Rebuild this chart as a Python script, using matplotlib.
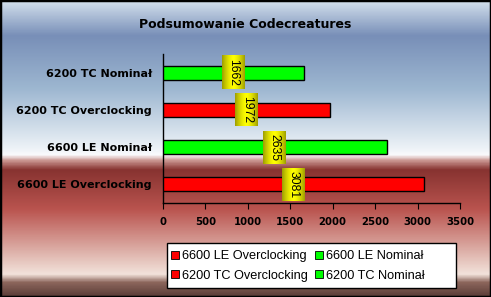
import numpy as np
import matplotlib
matplotlib.use("Agg")
import matplotlib.pyplot as plt
from matplotlib.colors import LinearSegmentedColormap
from matplotlib.patches import Rectangle
from matplotlib.lines import Line2D

plt.rcParams['font.family'] = ['Liberation Sans', 'DejaVu Sans']

title = "Podsumowanie Codecreatures"
categories = ["6600 LE Overclocking", "6600 LE Nominał", "6200 TC Overclocking", "6200 TC Nominał"]
values = [3081, 2635, 1972, 1662]
series_kind = ["oc", "nom", "oc", "nom"]
xticks = [0, 500, 1000, 1500, 2000, 2500, 3000, 3500]
legend_labels = ["6600 LE Overclocking", "6200 TC Overclocking", "6600 LE Nominał", "6200 TC Nominał"]
legend_kind = ["oc", "oc", "nom", "nom"]

base = {"oc": (1.0, 0.0, 0.0), "nom": (0.0, 1.0, 0.0)}
dark = {"oc": (0.55, 0.0, 0.0), "nom": (0.0, 0.5, 0.0)}

W, H = 491, 297
fig = plt.figure(figsize=(W / 100, H / 100), dpi=100)

# background gradient
bg = fig.add_axes([0, 0, 1, 1], zorder=-10)
stops = [
    (0.0, (0.83, 0.88, 0.93)),
    (0.118, (0.47, 0.56, 0.72)),
    (0.30, (0.62, 0.72, 0.82)),
    (0.50, (0.93, 0.95, 0.97)),
    (0.522, (0.98, 0.98, 0.99)),
    (0.540, (0.80, 0.60, 0.58)),
    (0.572, (0.53, 0.20, 0.19)),
    (0.707, (0.73, 0.33, 0.31)),
    (0.859, (0.88, 0.72, 0.69)),
    (0.926, (0.95, 0.89, 0.86)),
    (0.953, (0.55, 0.40, 0.36)),
    (1.0, (0.36, 0.24, 0.22)),
]
cmap = LinearSegmentedColormap.from_list("bg", stops)
grad = np.linspace(0, 1, 600).reshape(-1, 1)
bg.imshow(grad, aspect="auto", cmap=cmap, extent=[0, 1, 0, 1], origin="upper")
bg.set_axis_off()
bg.set_xlim(0, 1); bg.set_ylim(0, 1)
bg.add_patch(Rectangle((0, 0), 1, 1, transform=bg.transAxes, fill=False,
                       edgecolor="black", linewidth=2.5, clip_on=False))
# legend frame
bg.add_patch(Rectangle((167 / W, (297 - 288) / H), (456 - 167) / W, (288 - 243) / H,
                       transform=bg.transAxes, facecolor="white", edgecolor="black",
                       linewidth=1, zorder=5))

ax = fig.add_axes([163 / W, (297 - 203) / H, (460 - 163) / W, (203 - 54) / H])
ax.patch.set_alpha(0)
ypos = np.arange(len(categories))
bh = 0.38
bars = ax.barh(ypos, values, height=bh, color=[base[k] for k in series_kind],
               edgecolor="black", linewidth=1.0, zorder=3)

# vertical gradient on bars
g = np.abs(np.linspace(-1, 1, 64))
for bar, k in zip(bars, series_kind):
    b = np.array(base[k]); d = np.array(dark[k])
    t = np.clip((g - 0.3) / 0.7, 0, 1) ** 1.5
    img = (b[None, :] * (1 - t[:, None]) + d[None, :] * t[:, None]).reshape(-1, 1, 3)
    x0, y0 = bar.get_x(), bar.get_y()
    im = ax.imshow(img, aspect="auto", extent=[x0, x0 + bar.get_width(), y0, y0 + bar.get_height()],
                   zorder=2.9, interpolation="bilinear")
    im.set_clip_path(bar)

# value labels
dx_per_px = 3500 / (460 - 163)
dy_per_px = 4.0 / (203 - 54)
bw, bhh = 23 * dx_per_px, 33 * dy_per_px
hg = np.abs(np.linspace(-1, 1, 64))
ycol = np.array([1.0, 1.0, 0.0]); ocol = np.array([0.62, 0.62, 0.0])
ybox = (ycol[None, :] * (1 - hg[:, None] ** 1.5) + ocol[None, :] * hg[:, None] ** 1.5).reshape(1, -1, 3)
for y, v in zip(ypos, values):
    cx = v / 2
    ax.imshow(ybox, aspect="auto", extent=[cx - bw / 2, cx + bw / 2, y - bhh / 2, y + bhh / 2],
              zorder=4, interpolation="bilinear")
    ax.text(cx, y, str(v), rotation=-90, ha="center", va="center", fontsize=8.8,
            color="black", zorder=5)

ax.set_xlim(0, 3500)
ax.set_ylim(-0.5, 3.5)
ax.set_xticks(xticks)
ax.set_xticklabels([str(t) for t in xticks], fontsize=7.3, fontweight="bold", family="DejaVu Sans")
ax.set_yticks(ypos)
ax.set_yticklabels(categories, fontsize=8, fontweight="bold", family="DejaVu Sans")
ax.tick_params(axis="y", which="major", length=0, pad=8)
ax.tick_params(axis="x", length=4, direction="out", pad=6)
for s in ["top", "right"]:
    ax.spines[s].set_visible(False)
ax.spines["left"].set_linewidth(1)
ax.spines["bottom"].set_linewidth(1)

fig.text(0.5, (297 - 24.5) / H, title, ha="center", va="center", fontsize=9,
         fontweight="bold", family="DejaVu Sans")

handles = [Line2D([], [], linestyle="none", marker="s", markersize=5.5,
                  markerfacecolor=base[k], markeredgecolor="black", markeredgewidth=0.6)
           for k in legend_kind]
leg = fig.legend(handles, legend_labels, ncol=2, loc="center left",
                 bbox_to_anchor=(171 / W, (297 - 266) / H),
                 fontsize=9.2, frameon=False,
                 handlelength=0.6, handletextpad=0.25, columnspacing=0.6,
                 labelspacing=0.55, borderpad=0, borderaxespad=0)
leg.set_zorder(10)

fig.savefig("out.png", dpi=100)
